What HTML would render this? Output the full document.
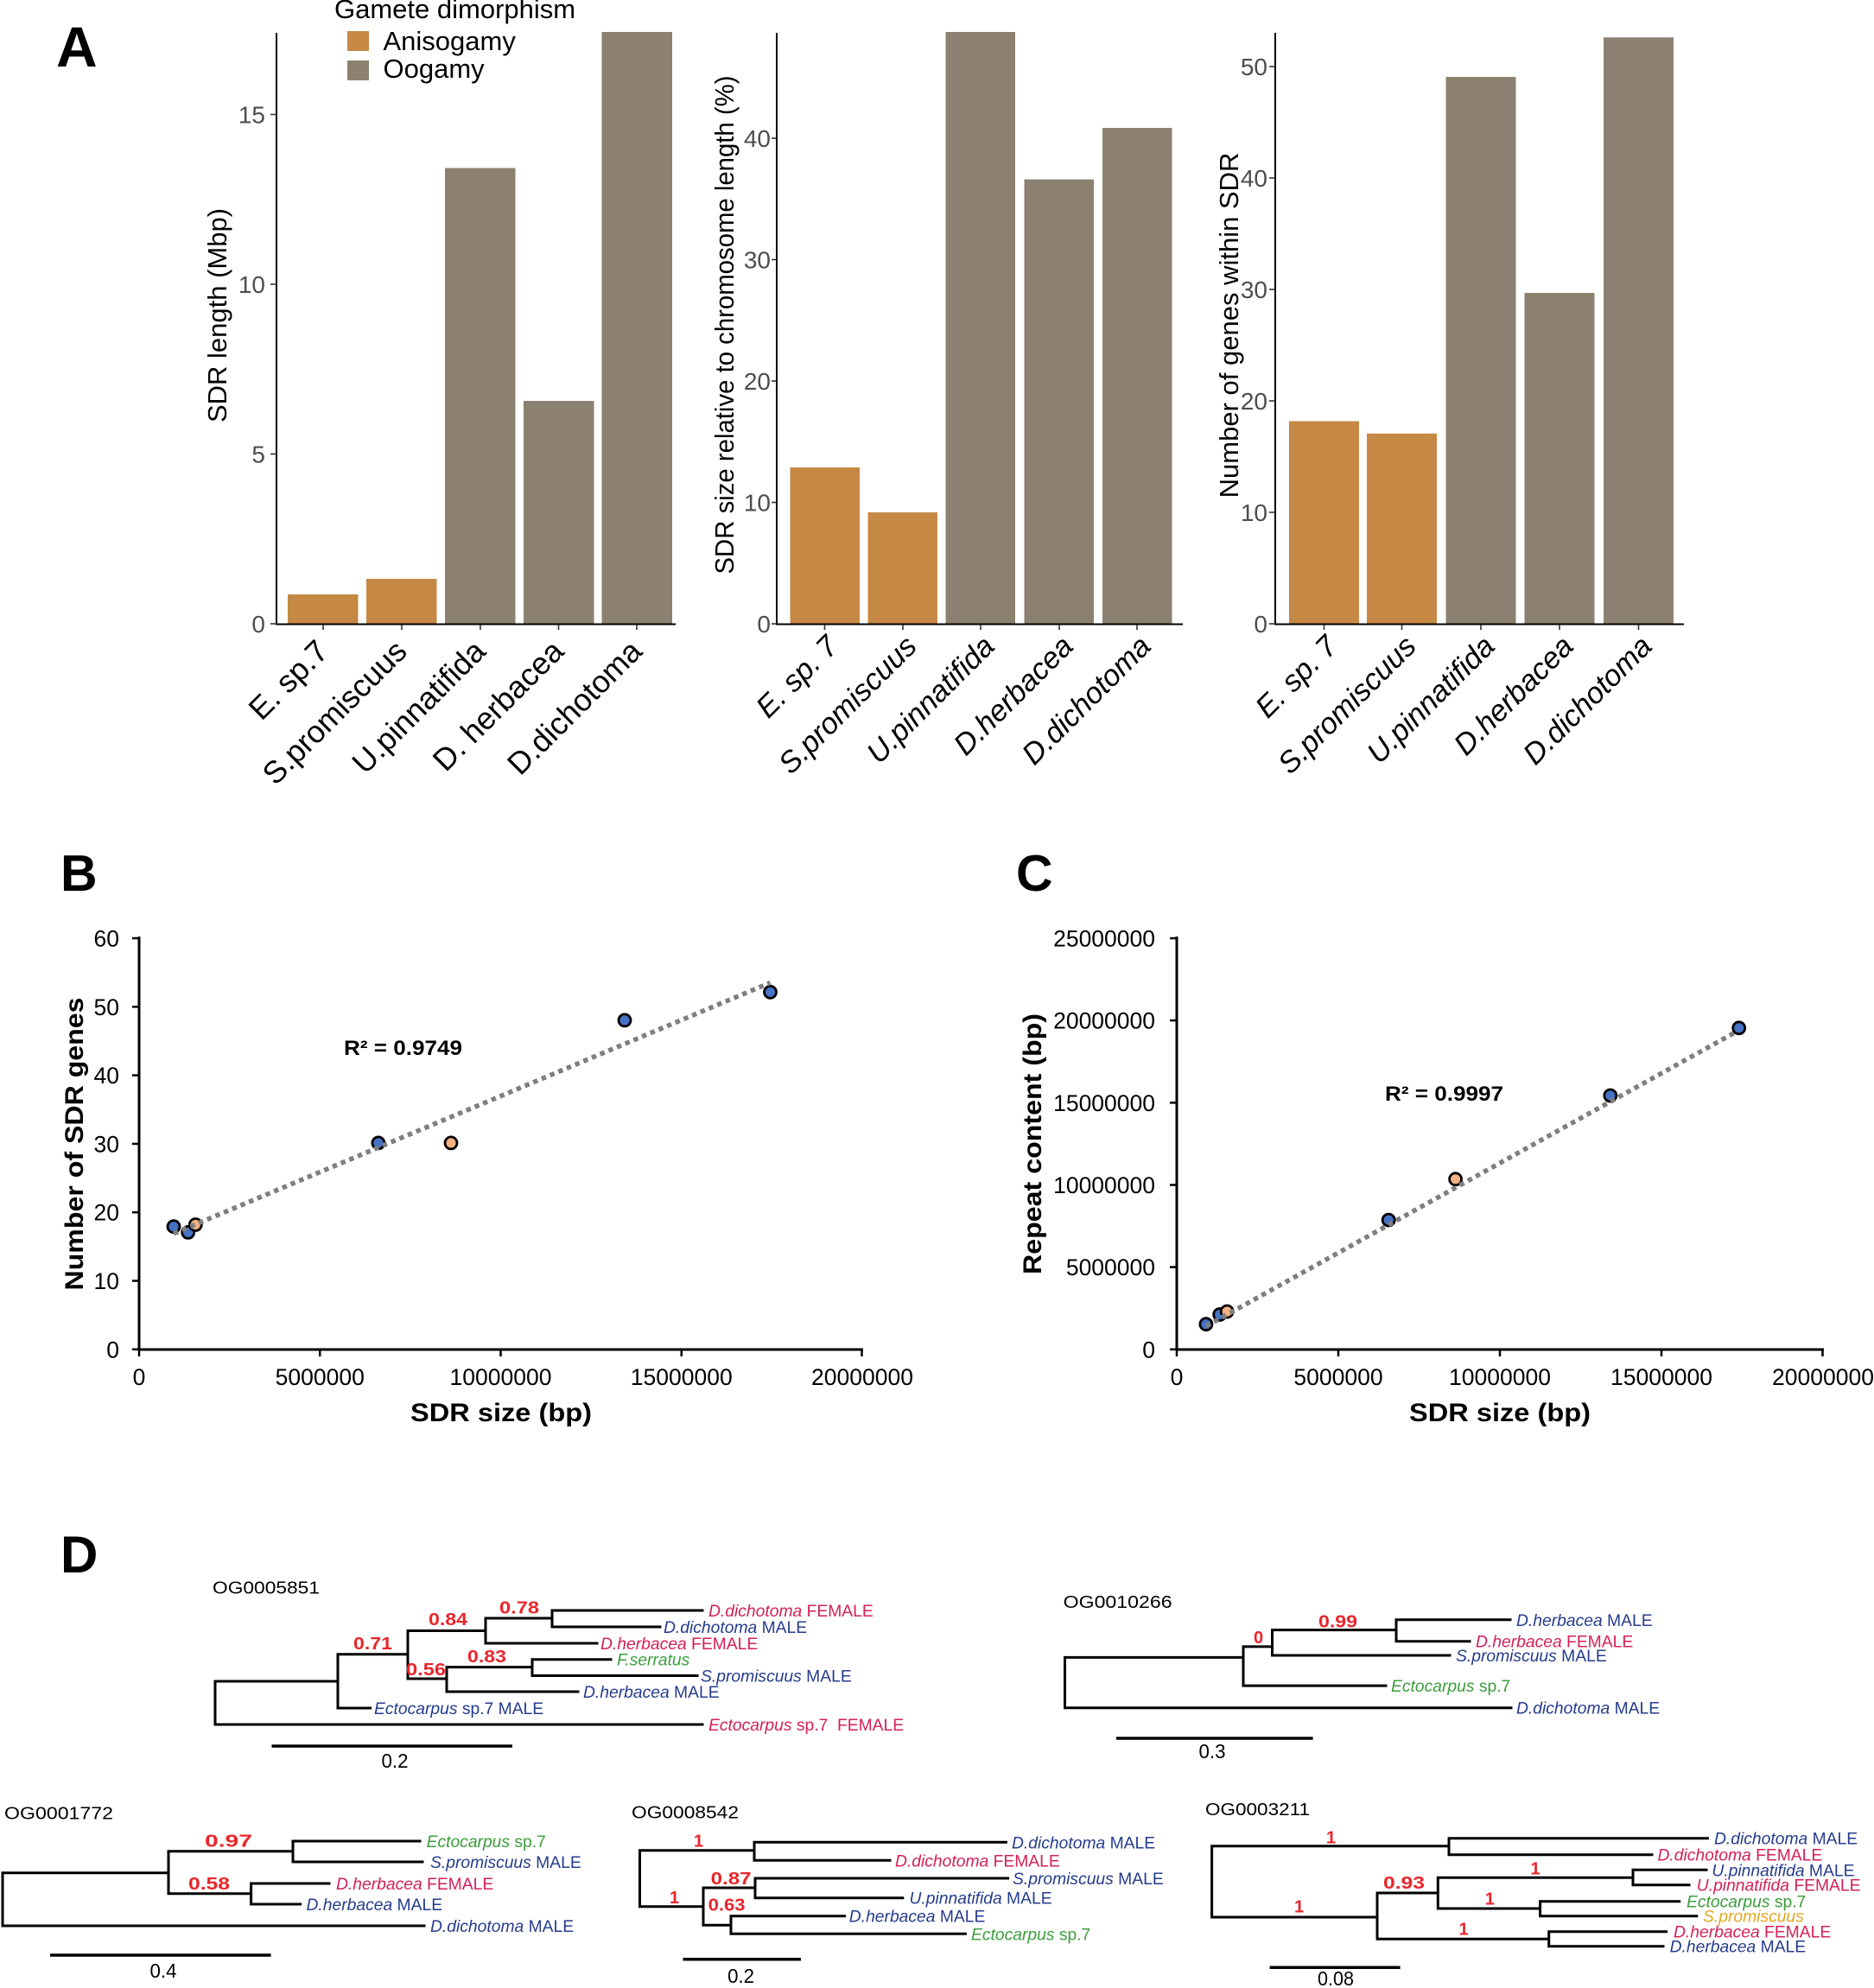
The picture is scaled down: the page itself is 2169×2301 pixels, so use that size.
<!DOCTYPE html>
<html>
<head>
<meta charset="utf-8">
<style>
  html,body{margin:0;padding:0;background:#fff;}
  body{width:2169px;height:2301px;overflow:hidden;}
  svg{display:block;font-family:"Liberation Sans",Arial,sans-serif;}
  .tk{font-size:28px;fill:#4d4d4d;}
  .ttl{font-size:31px;fill:#000;}
  .xl{font-size:36px;fill:#000;}
  .xli{font-size:34.5px;fill:#000;font-style:italic;}
  .stk{font-size:26.5px;fill:#000;}
  .bt{font-weight:bold;fill:#000;}
  .lf{font-size:19.3px;}
  .nv{fill:#253c8c;}
  .cr{fill:#d4205a;}
  .gr{fill:#3c9d3c;}
  .or{fill:#e3a81f;}
  .bs{font-size:20px;font-weight:bold;fill:#e8262b;}
  .og{font-size:20px;fill:#000;}
  .sc{font-size:23px;fill:#000;}
  .it{font-style:italic;}
</style>
</head>
<body>
<svg width="2169" height="2301" viewBox="0 0 2169 2301" xmlns="http://www.w3.org/2000/svg">
<rect x="0" y="0" width="2169" height="2301" fill="#fff"/>

<!-- ================= PANEL A ================= -->
<text x="65" y="77" font-size="66" font-weight="bold" fill="#000">A</text>

<!-- legend -->
<text x="387" y="21" class="ttl">Gamete dimorphism</text>
<rect x="402" y="36" width="25" height="23" fill="#c58945"/>
<rect x="402" y="70" width="25" height="23" fill="#8c8170"/>
<text x="443.5" y="58" class="ttl">Anisogamy</text>
<text x="443.5" y="90" class="ttl">Oogamy</text>

<!-- Left plot -->
<g>
  <rect x="333" y="688" width="81.5" height="34" fill="#c58945"/>
  <rect x="424" y="670" width="81.5" height="52" fill="#c58945"/>
  <rect x="515" y="194.5" width="81.5" height="527.5" fill="#8c8170"/>
  <rect x="606" y="464" width="81.5" height="258" fill="#8c8170"/>
  <rect x="696.5" y="37" width="81.5" height="685" fill="#8c8170"/>
  <line x1="320" y1="38" x2="320" y2="723" stroke="#000" stroke-width="2"/>
  <line x1="319" y1="722.5" x2="782" y2="722.5" stroke="#000" stroke-width="2"/>
  <g stroke="#333" stroke-width="1.6">
    <line x1="313" y1="722" x2="320" y2="722"/>
    <line x1="313" y1="525.5" x2="320" y2="525.5"/>
    <line x1="313" y1="329" x2="320" y2="329"/>
    <line x1="313" y1="132.5" x2="320" y2="132.5"/>
    <line x1="374" y1="723" x2="374" y2="729"/>
    <line x1="465" y1="723" x2="465" y2="729"/>
    <line x1="556" y1="723" x2="556" y2="729"/>
    <line x1="646.5" y1="723" x2="646.5" y2="729"/>
    <line x1="737" y1="723" x2="737" y2="729"/>
  </g>
  <g class="tk" text-anchor="end">
    <text x="307" y="732">0</text>
    <text x="307" y="535.5">5</text>
    <text x="307" y="339">10</text>
    <text x="307" y="142.5">15</text>
  </g>
  <text class="ttl" text-anchor="middle" transform="translate(262,365) rotate(-90)">SDR length (Mbp)</text>
  <g class="xl" text-anchor="end">
    <text transform="translate(382,756) rotate(-45)">E. sp.7</text>
    <text transform="translate(473,756) rotate(-45)">S.promiscuus</text>
    <text transform="translate(564,756) rotate(-45)">U.pinnatifida</text>
    <text transform="translate(654.5,756) rotate(-45)">D. herbacea</text>
    <text transform="translate(745,756) rotate(-45)">D.dichotoma</text>
  </g>
</g>

<!-- Middle plot -->
<g>
  <rect x="914.5" y="541" width="80.5" height="181" fill="#c58945"/>
  <rect x="1004.5" y="593" width="80.5" height="129" fill="#c58945"/>
  <rect x="1094.5" y="37" width="80.5" height="685" fill="#8c8170"/>
  <rect x="1185.5" y="207.6" width="80.5" height="514.4" fill="#8c8170"/>
  <rect x="1276" y="148" width="80.5" height="574" fill="#8c8170"/>
  <line x1="899" y1="38" x2="899" y2="723" stroke="#000" stroke-width="2"/>
  <line x1="898" y1="722.5" x2="1369" y2="722.5" stroke="#000" stroke-width="2"/>
  <g stroke="#333" stroke-width="1.6">
    <line x1="893" y1="722" x2="899" y2="722"/>
    <line x1="893" y1="581.5" x2="899" y2="581.5"/>
    <line x1="893" y1="441" x2="899" y2="441"/>
    <line x1="893" y1="300.5" x2="899" y2="300.5"/>
    <line x1="893" y1="160" x2="899" y2="160"/>
    <line x1="954.5" y1="723" x2="954.5" y2="729"/>
    <line x1="1045" y1="723" x2="1045" y2="729"/>
    <line x1="1135" y1="723" x2="1135" y2="729"/>
    <line x1="1226" y1="723" x2="1226" y2="729"/>
    <line x1="1316" y1="723" x2="1316" y2="729"/>
  </g>
  <g class="tk" text-anchor="end">
    <text x="892" y="732">0</text>
    <text x="892" y="591.5">10</text>
    <text x="892" y="451">20</text>
    <text x="892" y="310.5">30</text>
    <text x="892" y="170">40</text>
  </g>
  <text class="ttl" text-anchor="middle" textLength="577" lengthAdjust="spacingAndGlyphs" transform="translate(849,376) rotate(-90)">SDR size relative to chromosome length (%)</text>
  <g class="xli" text-anchor="end">
    <text transform="translate(972,750) rotate(-45)">E. sp. 7</text>
    <text transform="translate(1063,750) rotate(-45)">S.promiscuus</text>
    <text transform="translate(1153,750) rotate(-45)">U.pinnatifida</text>
    <text transform="translate(1244,750) rotate(-45)">D.herbacea</text>
    <text transform="translate(1334,750) rotate(-45)">D.dichotoma</text>
  </g>
</g>

<!-- Right plot -->
<g>
  <rect x="1492" y="487.5" width="81" height="234.5" fill="#c58945"/>
  <rect x="1582" y="501.8" width="81" height="220.2" fill="#c58945"/>
  <rect x="1673.5" y="89" width="81" height="633" fill="#8c8170"/>
  <rect x="1764.5" y="339" width="81" height="383" fill="#8c8170"/>
  <rect x="1856" y="43.3" width="81" height="678.7" fill="#8c8170"/>
  <line x1="1476" y1="38" x2="1476" y2="723" stroke="#000" stroke-width="2"/>
  <line x1="1475" y1="722.5" x2="1949" y2="722.5" stroke="#000" stroke-width="2"/>
  <g stroke="#333" stroke-width="1.6">
    <line x1="1469" y1="722" x2="1476" y2="722"/>
    <line x1="1469" y1="593" x2="1476" y2="593"/>
    <line x1="1469" y1="464" x2="1476" y2="464"/>
    <line x1="1469" y1="335" x2="1476" y2="335"/>
    <line x1="1469" y1="206" x2="1476" y2="206"/>
    <line x1="1469" y1="77" x2="1476" y2="77"/>
    <line x1="1532.5" y1="723" x2="1532.5" y2="729"/>
    <line x1="1622.5" y1="723" x2="1622.5" y2="729"/>
    <line x1="1714" y1="723" x2="1714" y2="729"/>
    <line x1="1805" y1="723" x2="1805" y2="729"/>
    <line x1="1896.5" y1="723" x2="1896.5" y2="729"/>
  </g>
  <g class="tk" text-anchor="end">
    <text x="1467" y="732">0</text>
    <text x="1467" y="603">10</text>
    <text x="1467" y="474">20</text>
    <text x="1467" y="345">30</text>
    <text x="1467" y="216">40</text>
    <text x="1467" y="87">50</text>
  </g>
  <text class="ttl" text-anchor="middle" transform="translate(1433,376.5) rotate(-90)">Number of genes within SDR</text>
  <g class="xli" text-anchor="end">
    <text transform="translate(1550,750) rotate(-45)">E. sp. 7</text>
    <text transform="translate(1641,750) rotate(-45)">S.promiscuus</text>
    <text transform="translate(1732,750) rotate(-45)">U.pinnatifida</text>
    <text transform="translate(1823,750) rotate(-45)">D.herbacea</text>
    <text transform="translate(1914,750) rotate(-45)">D.dichotoma</text>
  </g>
</g>

<!-- ================= PANEL B ================= -->
<text x="70" y="1031" font-size="59" font-weight="bold" fill="#000">B</text>
<g>
  <line x1="161" y1="1084" x2="161" y2="1563" stroke="#000" stroke-width="3"/>
  <line x1="159.5" y1="1562" x2="999" y2="1562" stroke="#000" stroke-width="3"/>
  <g stroke="#000" stroke-width="2.5">
    <line x1="153" y1="1086" x2="161" y2="1086"/>
    <line x1="153" y1="1165.3" x2="161" y2="1165.3"/>
    <line x1="153" y1="1244.6" x2="161" y2="1244.6"/>
    <line x1="153" y1="1323.9" x2="161" y2="1323.9"/>
    <line x1="153" y1="1403.2" x2="161" y2="1403.2"/>
    <line x1="153" y1="1482.5" x2="161" y2="1482.5"/>
    <line x1="153" y1="1561.8" x2="161" y2="1561.8"/>
    <line x1="161" y1="1562" x2="161" y2="1570"/>
    <line x1="370.25" y1="1562" x2="370.25" y2="1570"/>
    <line x1="579.5" y1="1562" x2="579.5" y2="1570"/>
    <line x1="788.75" y1="1562" x2="788.75" y2="1570"/>
    <line x1="997.5" y1="1562" x2="997.5" y2="1570"/>
  </g>
  <g class="stk" text-anchor="end">
    <text x="138" y="1095.5">60</text>
    <text x="138" y="1174.8">50</text>
    <text x="138" y="1254.1">40</text>
    <text x="138" y="1333.4">30</text>
    <text x="138" y="1412.7">20</text>
    <text x="138" y="1492">10</text>
    <text x="138" y="1571.3">0</text>
  </g>
  <g class="stk" text-anchor="middle">
    <text x="161" y="1603">0</text>
    <text x="370.25" y="1603">5000000</text>
    <text x="579.5" y="1603">10000000</text>
    <text x="788.75" y="1603">15000000</text>
    <text x="998" y="1603">20000000</text>
  </g>
  <text class="bt" font-size="30" text-anchor="middle" textLength="339" lengthAdjust="spacingAndGlyphs" transform="translate(96,1324) rotate(-90)">Number of SDR genes</text>
  <text class="bt" font-size="30" x="580" y="1645" text-anchor="middle" textLength="210" lengthAdjust="spacingAndGlyphs">SDR size (bp)</text>
  <text class="bt" font-size="24" x="398" y="1221" textLength="137" lengthAdjust="spacingAndGlyphs">R² = 0.9749</text>
  <g stroke="#000" stroke-width="2.8">
    <circle cx="201" cy="1419.7" r="7" fill="#4472c4"/>
    <circle cx="217.7" cy="1426.4" r="7" fill="#4472c4"/>
    <circle cx="226.3" cy="1417.5" r="7" fill="#f4b183"/>
    <circle cx="437.9" cy="1322.9" r="7" fill="#4472c4"/>
    <circle cx="522" cy="1322.9" r="7" fill="#f4b183"/>
    <circle cx="723" cy="1180.9" r="7" fill="#4472c4"/>
    <circle cx="891.5" cy="1148.3" r="7" fill="#4472c4"/>
  </g>
  <line x1="201" y1="1427.8" x2="891.5" y2="1137.4" stroke="#7f7f7f" stroke-width="5.5" stroke-dasharray="5.5 5"/>
</g>

<!-- ================= PANEL C ================= -->
<text x="1176" y="1031" font-size="59" font-weight="bold" fill="#000">C</text>
<g>
  <line x1="1362" y1="1084" x2="1362" y2="1563" stroke="#000" stroke-width="3"/>
  <line x1="1360.5" y1="1562" x2="2111" y2="1562" stroke="#000" stroke-width="3"/>
  <g stroke="#000" stroke-width="2.5">
    <line x1="1354" y1="1086" x2="1362" y2="1086"/>
    <line x1="1354" y1="1181.1" x2="1362" y2="1181.1"/>
    <line x1="1354" y1="1276.3" x2="1362" y2="1276.3"/>
    <line x1="1354" y1="1371.5" x2="1362" y2="1371.5"/>
    <line x1="1354" y1="1466.6" x2="1362" y2="1466.6"/>
    <line x1="1354" y1="1561.8" x2="1362" y2="1561.8"/>
    <line x1="1362" y1="1562" x2="1362" y2="1570"/>
    <line x1="1549" y1="1562" x2="1549" y2="1570"/>
    <line x1="1736" y1="1562" x2="1736" y2="1570"/>
    <line x1="1923" y1="1562" x2="1923" y2="1570"/>
    <line x1="2109.5" y1="1562" x2="2109.5" y2="1570"/>
  </g>
  <g class="stk" text-anchor="end">
    <text x="1337" y="1095.5">25000000</text>
    <text x="1337" y="1190.6">20000000</text>
    <text x="1337" y="1285.8">15000000</text>
    <text x="1337" y="1381">10000000</text>
    <text x="1337" y="1476.1">5000000</text>
    <text x="1337" y="1571.3">0</text>
  </g>
  <g class="stk" text-anchor="middle">
    <text x="1362" y="1603">0</text>
    <text x="1549" y="1603">5000000</text>
    <text x="1736" y="1603">10000000</text>
    <text x="1923" y="1603">15000000</text>
    <text x="2110" y="1603">20000000</text>
  </g>
  <text class="bt" font-size="30" text-anchor="middle" textLength="302" lengthAdjust="spacingAndGlyphs" transform="translate(1205,1324) rotate(-90)">Repeat content (bp)</text>
  <text class="bt" font-size="30" x="1736" y="1645" text-anchor="middle" textLength="210" lengthAdjust="spacingAndGlyphs">SDR size (bp)</text>
  <text class="bt" font-size="24" x="1603" y="1274" textLength="137" lengthAdjust="spacingAndGlyphs">R² = 0.9997</text>
  <g stroke="#000" stroke-width="2.8">
    <circle cx="1395.9" cy="1532.7" r="7" fill="#4472c4"/>
    <circle cx="1411.7" cy="1521.5" r="7" fill="#4472c4"/>
    <circle cx="1420.2" cy="1518" r="7" fill="#f4b183"/>
    <circle cx="1607.2" cy="1412.1" r="7" fill="#4472c4"/>
    <circle cx="1684.6" cy="1364.8" r="7" fill="#f4b183"/>
    <circle cx="1863.8" cy="1268" r="7" fill="#4472c4"/>
    <circle cx="2012.7" cy="1189.8" r="7" fill="#4472c4"/>
  </g>
  <line x1="1396" y1="1535" x2="2011" y2="1193.4" stroke="#7f7f7f" stroke-width="5.5" stroke-dasharray="5.5 5"/>
</g>

<!-- ================= PANEL D ================= -->
<text x="70" y="1820" font-size="60" font-weight="bold" fill="#000">D</text>

<!-- Tree 1: OG0005851 -->
<text x="246" y="1844.5" class="og" textLength="124" lengthAdjust="spacingAndGlyphs">OG0005851</text>
<path fill="none" stroke="#000" stroke-width="3" stroke-linecap="square" d="
M249 1946 V1996 M249 1996 H813 M249 1946 H391
M391 1914.7 V1977 M391 1977 H428.6 M391 1914.7 H472
M472 1887.5 V1943 M472 1887.5 H562
M562 1873 V1902 M562 1902 H691 M562 1873 H639
M639 1864 V1883 M639 1864 H813 M639 1883 H764
M472 1943 H517 M517 1929.6 V1958 M517 1958 H669 M517 1929.6 H616
M616 1920.7 V1939.5 M616 1920.7 H707 M616 1939.5 H807"/>
<g class="lf">
  <text x="820" y="1871" class="cr"><tspan class="it">D.dichotoma</tspan> FEMALE</text>
  <text x="768" y="1890" class="nv"><tspan class="it">D.dichotoma</tspan> MALE</text>
  <text x="695" y="1909" class="cr"><tspan class="it">D.herbacea</tspan> FEMALE</text>
  <text x="714" y="1927.7" class="gr it">F.serratus</text>
  <text x="811" y="1946.5" class="nv"><tspan class="it">S.promiscuus</tspan> MALE</text>
  <text x="675" y="1965" class="nv"><tspan class="it">D.herbacea</tspan> MALE</text>
  <text x="433" y="1984" class="nv"><tspan class="it">Ectocarpus</tspan> sp.7 MALE</text>
  <text x="820" y="2003" class="cr" xml:space="preserve"><tspan class="it">Ectocarpus</tspan> sp.7  FEMALE</text>
</g>
<g class="bs">
  <text x="409" y="1909" textLength="45" lengthAdjust="spacingAndGlyphs">0.71</text>
  <text x="496" y="1881" textLength="45" lengthAdjust="spacingAndGlyphs">0.84</text>
  <text x="578" y="1867.7" textLength="46" lengthAdjust="spacingAndGlyphs">0.78</text>
  <text x="470" y="1939" textLength="46" lengthAdjust="spacingAndGlyphs">0.56</text>
  <text x="541" y="1924" textLength="45" lengthAdjust="spacingAndGlyphs">0.83</text>
</g>
<line x1="314.5" y1="2021" x2="593" y2="2021" stroke="#000" stroke-width="3.5"/>
<text x="457" y="2046" class="sc" text-anchor="middle" textLength="31" lengthAdjust="spacingAndGlyphs">0.2</text>

<!-- Tree 2: OG0010266 -->
<text x="1230.6" y="1861" class="og" textLength="126" lengthAdjust="spacingAndGlyphs">OG0010266</text>
<path fill="none" stroke="#000" stroke-width="3" stroke-linecap="square" d="
M1232.5 1918.4 V1976.7 M1232.5 1976.7 H1749 M1232.5 1918.4 H1439
M1439 1905.9 V1951.1 M1439 1951.1 H1604 M1439 1905.9 H1472.5
M1472.5 1886.6 V1916 M1472.5 1916 H1678 M1472.5 1886.6 H1616
M1616 1874.8 V1899.7 M1616 1874.8 H1748 M1616 1899.7 H1701"/>
<g class="lf">
  <text x="1755" y="1881.8" class="nv"><tspan class="it">D.herbacea</tspan> MALE</text>
  <text x="1708" y="1906.7" class="cr"><tspan class="it">D.herbacea</tspan> FEMALE</text>
  <text x="1685" y="1923" class="nv"><tspan class="it">S.promiscuus</tspan> MALE</text>
  <text x="1610" y="1958.1" class="gr"><tspan class="it">Ectocarpus</tspan> sp.7</text>
  <text x="1755" y="1983.7" class="nv"><tspan class="it">D.dichotoma</tspan> MALE</text>
</g>
<g class="bs">
  <text x="1451" y="1902">0</text>
  <text x="1526" y="1883.3" textLength="45" lengthAdjust="spacingAndGlyphs">0.99</text>
</g>
<line x1="1292" y1="2012" x2="1519.6" y2="2012" stroke="#000" stroke-width="3.5"/>
<text x="1403" y="2035" class="sc" text-anchor="middle" textLength="31" lengthAdjust="spacingAndGlyphs">0.3</text>

<!-- Tree 3: OG0001772 -->
<text x="5" y="2105.7" class="og" textLength="126" lengthAdjust="spacingAndGlyphs">OG0001772</text>
<path fill="none" stroke="#000" stroke-width="3" stroke-linecap="square" d="
M3 2167.7 V2229 M3 2229 H491 M3 2167.7 H195
M195 2142.7 V2191.7 M195 2142.7 H339
M339 2131 V2155 M339 2131 H486 M339 2155 H489
M195 2191.7 H290.6 M290.6 2180 V2204 M290.6 2180 H381 M290.6 2204 H347.6"/>
<g class="lf">
  <text x="493.6" y="2138" class="gr"><tspan class="it">Ectocarpus</tspan> sp.7</text>
  <text x="498" y="2162" class="nv"><tspan class="it">S.promiscuus</tspan> MALE</text>
  <text x="389" y="2187" class="cr"><tspan class="it">D.herbacea</tspan> FEMALE</text>
  <text x="354.5" y="2211" class="nv"><tspan class="it">D.herbacea</tspan> MALE</text>
  <text x="498" y="2236" class="nv"><tspan class="it">D.dichotoma</tspan> MALE</text>
</g>
<g class="bs">
  <text x="237" y="2137.7" textLength="55" lengthAdjust="spacingAndGlyphs">0.97</text>
  <text x="218" y="2187" textLength="48" lengthAdjust="spacingAndGlyphs">0.58</text>
</g>
<line x1="58" y1="2263" x2="313.6" y2="2263" stroke="#000" stroke-width="3.5"/>
<text x="189" y="2289" class="sc" text-anchor="middle" textLength="31" lengthAdjust="spacingAndGlyphs">0.4</text>

<!-- Tree 4: OG0008542 -->
<text x="731" y="2104.3" class="og" textLength="124" lengthAdjust="spacingAndGlyphs">OG0008542</text>
<path fill="none" stroke="#000" stroke-width="3" stroke-linecap="square" d="
M740.5 2141.7 V2206.7 M740.5 2141.7 H873
M873 2132.3 V2153.3 M873 2132.3 H1164.4 M873 2153.3 H1030
M740.5 2206.7 H814 M814 2185 V2228.3 M814 2185 H874
M874 2174 V2196.7 M874 2174 H1166.6 M874 2196.7 H1044.8
M814 2228.3 H846 M846 2217.7 V2238.3 M846 2217.7 H977.7 M846 2238.3 H1117.4"/>
<g class="lf">
  <text x="1171" y="2139.3" class="nv"><tspan class="it">D.dichotoma</tspan> MALE</text>
  <text x="1036" y="2160.3" class="cr"><tspan class="it">D.dichotoma</tspan> FEMALE</text>
  <text x="1172" y="2181" class="nv"><tspan class="it">S.promiscuus</tspan> MALE</text>
  <text x="1052.5" y="2203.7" class="nv"><tspan class="it">U.pinnatifida</tspan> MALE</text>
  <text x="982.8" y="2224.7" class="nv"><tspan class="it">D.herbacea</tspan> MALE</text>
  <text x="1124" y="2245.3" class="gr"><tspan class="it">Ectocarpus</tspan> sp.7</text>
</g>
<g class="bs">
  <text x="803" y="2137.7">1</text>
  <text x="775" y="2203">1</text>
  <text x="822.6" y="2181" textLength="47" lengthAdjust="spacingAndGlyphs">0.87</text>
  <text x="819.6" y="2211.7" textLength="43" lengthAdjust="spacingAndGlyphs">0.63</text>
</g>
<line x1="790.5" y1="2267.7" x2="927" y2="2267.7" stroke="#000" stroke-width="3.5"/>
<text x="857.6" y="2295" class="sc" text-anchor="middle" textLength="31" lengthAdjust="spacingAndGlyphs">0.2</text>

<!-- Tree 5: OG0003211 -->
<text x="1395" y="2101" class="og" textLength="121" lengthAdjust="spacingAndGlyphs">OG0003211</text>
<path fill="none" stroke="#000" stroke-width="3" stroke-linecap="square" d="
M1402.6 2136.7 V2219 M1402.6 2136.7 H1677
M1677 2127.7 V2146.7 M1677 2127.7 H1976.4 M1677 2146.7 H1912
M1402.6 2219 H1594 M1594 2191 V2244.3 M1594 2191 H1664.3
M1664.3 2173.3 V2209 M1664.3 2173.3 H1890
M1890 2164.3 V2181.7 M1890 2164.3 H1975 M1890 2181.7 H1955
M1664.3 2209 H1782.6 M1782.6 2200.7 V2217.7 M1782.6 2200.7 H1943.7 M1782.6 2217.7 H1963.8
M1594 2244.3 H1792.7 M1792.7 2235.7 V2252.7 M1792.7 2235.7 H1928.6 M1792.7 2252.7 H1925"/>
<g class="lf">
  <text x="1984" y="2134.7" class="nv"><tspan class="it">D.dichotoma</tspan> MALE</text>
  <text x="1918.5" y="2153.7" class="cr"><tspan class="it">D.dichotoma</tspan> FEMALE</text>
  <text x="1981.4" y="2171.3" class="nv"><tspan class="it">U.pinnatifida</tspan> MALE</text>
  <text x="1963.8" y="2188.7" class="cr"><tspan class="it">U.pinnatifida</tspan> FEMALE</text>
  <text x="1952" y="2207.7" class="gr"><tspan class="it">Ectocarpus</tspan> sp.7</text>
  <text x="1971" y="2224.7" class="or it">S.promiscuus</text>
  <text x="1937" y="2242.7" class="cr"><tspan class="it">D.herbacea</tspan> FEMALE</text>
  <text x="1932.6" y="2259.7" class="nv"><tspan class="it">D.herbacea</tspan> MALE</text>
</g>
<g class="bs">
  <text x="1535" y="2133.3">1</text>
  <text x="1498" y="2213.3">1</text>
  <text x="1601" y="2186" textLength="48" lengthAdjust="spacingAndGlyphs">0.93</text>
  <text x="1688.5" y="2239.3">1</text>
  <text x="1771.5" y="2169.3">1</text>
  <text x="1718.7" y="2204.3">1</text>
</g>
<line x1="1469.6" y1="2277.3" x2="1620.6" y2="2277.3" stroke="#000" stroke-width="3.5"/>
<text x="1546" y="2298" class="sc" text-anchor="middle" textLength="42" lengthAdjust="spacingAndGlyphs">0.08</text>

</svg>
</body>
</html>
